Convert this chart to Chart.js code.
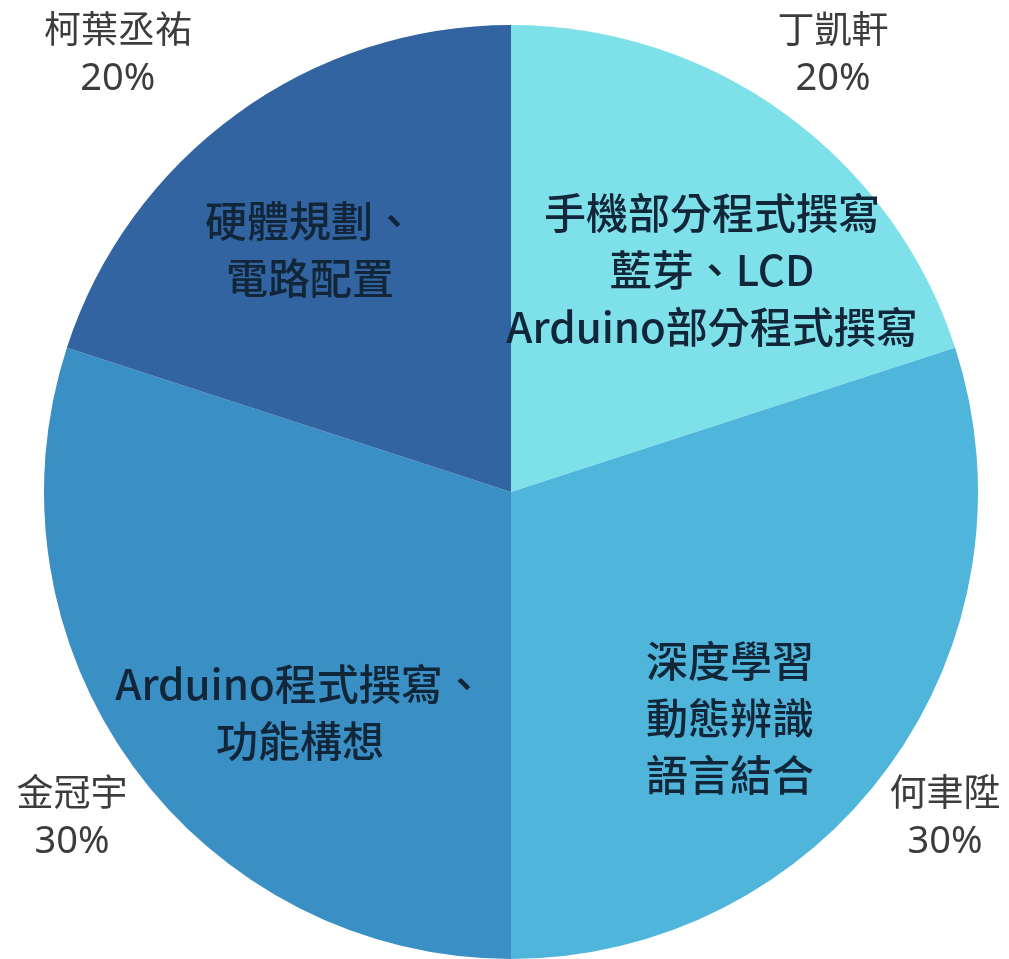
<!DOCTYPE html>
<html>
<head>
<meta charset="utf-8">
<script src="https://cdn.jsdelivr.net/npm/chart.js@4"></script>
<style>
  html, body { margin: 0; padding: 0; background: #ffffff; }
  #wrap { width: 1009px; height: 959px; }
</style>
</head>
<body>
<div id="wrap"><canvas id="c" width="1009" height="959"></canvas></div>
<script>
// ---- data ----
const names = ["丁凱軒", "何聿陞", "金冠宇", "柯葉丞祐"];
const shares = [20, 30, 30, 20];
const tasks = [
  ["手機部分程式撰寫", "藍芽、LCD", "Arduino部分程式撰寫"],
  ["深度學習", "動態辨識", "語言結合"],
  ["Arduino程式撰寫、", "功能構想"],
  ["硬體規劃、", "電路配置"]
];

// ---- styling / layout (not data) ----
const sliceColors = ["#7ee0e9", "#4fb5da", "#3a8fc4", "#3364a2"];
// label placement relative to each slice: angle offset (deg) from slice middle, radius fraction
const innerPlace = [[6.2, 0.641], [9.9, 0.674], [-10.3, 0.654], [-3.7, 0.674]];
const outerPlace = [[0.4, 1.162], [0.9, 1.162], [-0.6, 1.171], [-6.0, 1.258]];

const labelPlugin = {
  id: 'sliceLabels',
  afterDatasetsDraw(chart) {
    const ctx = chart.ctx;
    const meta = chart.getDatasetMeta(0);
    meta.data.forEach((arc, i) => {
      const p = arc.getProps(['x', 'y', 'startAngle', 'endAngle', 'outerRadius'], true);
      const mid = (p.startAngle + p.endAngle) / 2;
      ctx.save();
      ctx.textAlign = 'center';
      ctx.textBaseline = 'middle';
      // inner task text
      {
        const a = mid + innerPlace[i][0] * Math.PI / 180;
        const r = p.outerRadius * innerPlace[i][1];
        const cx = p.x + Math.cos(a) * r;
        const cy = p.y + Math.sin(a) * r;
        const lines = tasks[i];
        const lh = 57;
        ctx.fillStyle = '#12263a';
        ctx.font = '500 42px "Noto Sans CJK TC", "Noto Sans", sans-serif';
        lines.forEach((t, k) => {
          ctx.fillText(t, cx, cy + (k - (lines.length - 1) / 2) * lh);
        });
      }
      // outer name + percentage
      {
        const a = mid + outerPlace[i][0] * Math.PI / 180;
        const r = p.outerRadius * outerPlace[i][1];
        const cx = p.x + Math.cos(a) * r;
        const cy = p.y + Math.sin(a) * r;
        const total = shares.reduce((s, v) => s + v, 0);
        const pct = Math.round(shares[i] / total * 100) + '%';
        ctx.fillStyle = '#3c3c3c';
        ctx.font = '37px "Noto Sans CJK TC", "Noto Sans", sans-serif';
        ctx.fillText(names[i], cx, cy - 26);
        ctx.font = '38px "Noto Sans", "Noto Sans CJK TC", sans-serif';
        ctx.fillText(pct, cx, cy + 24);
      }
      ctx.restore();
    });
  }
};

new Chart(document.getElementById('c'), {
  type: 'pie',
  data: {
    labels: names,
    datasets: [{
      data: shares,
      backgroundColor: sliceColors,
      borderWidth: 0
    }]
  },
  options: {
    responsive: false,
    animation: false,
    layout: { padding: { left: 44, right: 31, top: 25, bottom: 0 } },
    plugins: {
      legend: { display: false },
      tooltip: { enabled: false }
    }
  },
  plugins: [labelPlugin]
});
</script>
</body>
</html>
